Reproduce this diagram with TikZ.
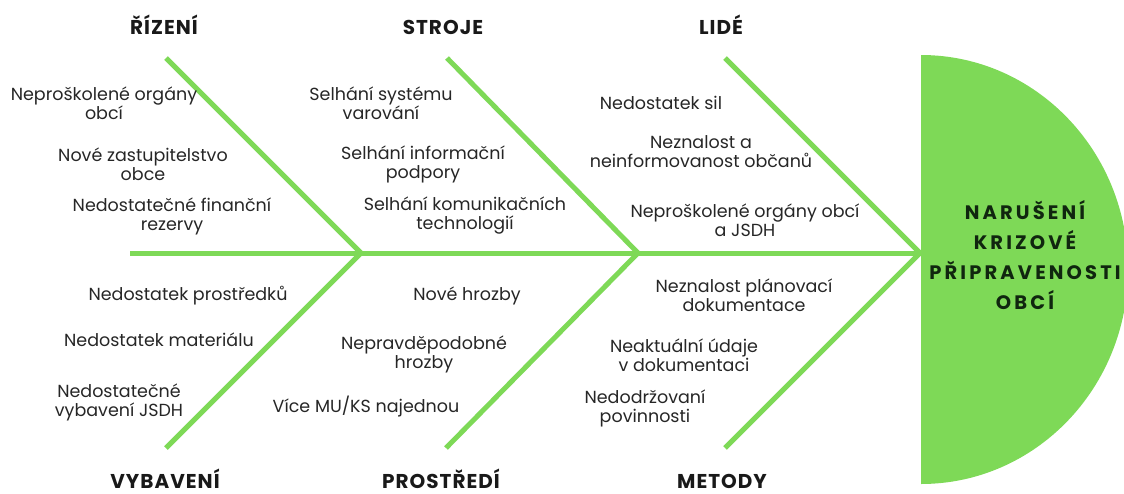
\documentclass[tikz,border=0pt]{standalone}
\usepackage{fontspec}
\setmainfont{Poppins}
\newfontfamily\headfont[LetterSpace=5]{Poppins}
\newfontfamily\effectfont[LetterSpace=16]{Poppins}
\usepackage{xcolor}
\definecolor{bonegreen}{HTML}{7ED957}
\definecolor{effectink}{HTML}{10260F}
\tikzstyle{bone}=[draw=bonegreen, line width=5pt]
\tikzstyle{cause}=[align=center, inner sep=0pt, text=black!85, font=\fontsize{17.5}{19}\selectfont]
\tikzstyle{category}=[anchor=base, inner sep=0pt, text=black!90, font=\headfont\bfseries\fontsize{20}{22}\selectfont]

\begin{document}
\begin{tikzpicture}[x=1pt, y=-1pt]
	\useasboundingbox (0,0) rectangle (1124,493);
	% effect (half disc)
	\begin{scope}
		\clip (921,0) rectangle (1124,493);
		\fill[bonegreen] (921,269.5) ellipse [x radius=207, y radius=214.5];
	\end{scope}
	\node[align=center, text=effectink, font=\effectfont\bfseries\fontsize{19.5}{30}\selectfont] (effect) at (1025,255) {NARUŠENÍ\\KRIZOVÉ\\PŘIPRAVENOSTI\\OBCÍ};
	% spine and bones
	\coordinate (spineL) at (130,253);
	\coordinate (apex) at (920,253);
	\coordinate (j1) at (361,253);
	\coordinate (j2) at (638,253);
	\coordinate (rizTop) at (166,58);
	\coordinate (vybBot) at (166,448);
	\coordinate (strTop) at (447,58);
	\coordinate (proBot) at (446,448);
	\coordinate (lidTop) at (725,58);
	\coordinate (metBot) at (725,448);
	\draw[bone] (spineL) -- (apex);
	\draw[bone] (rizTop) -- (j1) -- (vybBot);
	\draw[bone] (strTop) -- (j2) -- (proBot);
	\draw[bone] (lidTop) -- (apex) -- (metBot);
	% categories
	\node[category] (riz) at (164,34) {ŘÍZENÍ};
	\node[category] (str) at (443,34) {STROJE};
	\node[category] (lid) at (721,34) {LIDÉ};
	\node[category] (vyb) at (165,488) {VYBAVENÍ};
	\node[category] (pro) at (441,488) {PROSTŘEDÍ};
	\node[category] (met) at (722,488) {METODY};
	% causes, top
	\node[cause] (r1) at (104,103) {Neproškolené orgány\\obcí};
	\node[cause] (r2) at (143,164) {Nové zastupitelstvo\\obce};
	\node[cause] (r3) at (172,216) {Nedostatečné finanční\\rezervy};
	\node[cause] (s1) at (381,103) {Selhání systému\\varování};
	\node[cause] (s2) at (423,164) {Selhání informační\\podpory};
	\node[cause] (s3) at (465,216) {Selhání komunikačních\\technologií};
	\node[cause] (l1) at (661,103) {Nedostatek sil};
	\node[cause] (l2) at (701,152) {Neznalost a\\neinformovanost občanů};
	\node[cause] (l3) at (745,220) {Neproškolené orgány obcí\\a JSDH};
	% causes, bottom
	\node[cause] (v1) at (188,296) {Nedostatek prostředků};
	\node[cause] (v2) at (159,340) {Nedostatek materiálu};
	\node[cause] (v3) at (119,402) {Nedostatečné\\vybavení JSDH};
	\node[cause] (p1) at (467,296) {Nové hrozby};
	\node[cause] (p2) at (424,354) {Nepravděpodobné\\hrozby};
	\node[cause] (p3) at (366,407) {Více MU/KS najednou};
	\node[cause] (m1) at (744,295) {Neznalost plánovací\\dokumentace};
	\node[cause] (m2) at (684,355) {Neaktuální údaje\\v dokumentaci};
	\node[cause] (m3) at (645,408) {Nedodržovaní\\povinnosti};
\end{tikzpicture}
\end{document}
